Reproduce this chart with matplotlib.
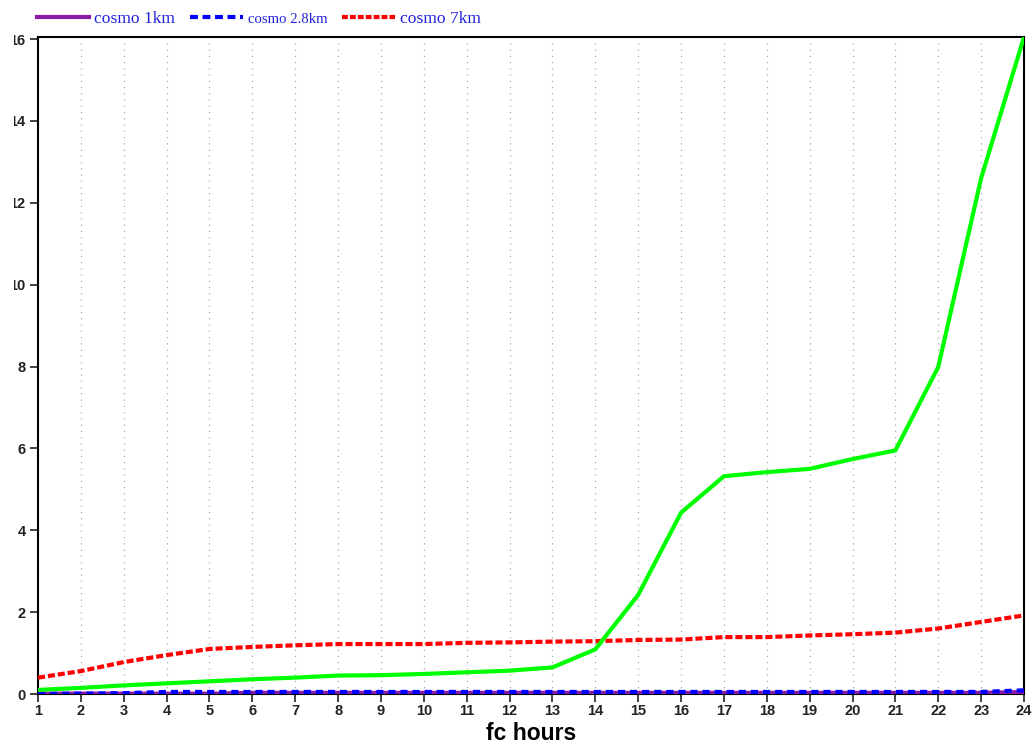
import matplotlib
matplotlib.use("Agg")
import matplotlib.pyplot as plt
from matplotlib.lines import Line2D
from matplotlib.patches import Rectangle

# forecast hours
hours = list(range(1, 25))

# series values
cosmo_1km = [0.0, 0.0, 0.0, 0.0, 0.0, 0.02, 0.02, 0.02, 0.02, 0.02, 0.02, 0.02,
             0.02, 0.02, 0.02, 0.02, 0.02, 0.02, 0.02, 0.02, 0.02, 0.02, 0.02, 0.04]
cosmo_2_8km = [0.0, 0.01, 0.02, 0.05, 0.05, 0.05, 0.05, 0.05, 0.05, 0.05, 0.05, 0.05,
               0.05, 0.05, 0.05, 0.05, 0.05, 0.05, 0.05, 0.05, 0.05, 0.05, 0.05, 0.09]
cosmo_7km = [0.40, 0.56, 0.78, 0.95, 1.10, 1.15, 1.19, 1.22, 1.22, 1.22, 1.25, 1.26,
             1.28, 1.29, 1.32, 1.33, 1.39, 1.39, 1.43, 1.46, 1.50, 1.60, 1.76, 1.92]
green_series = [0.10, 0.15, 0.21, 0.26, 0.31, 0.36, 0.40, 0.45, 0.46, 0.49, 0.53, 0.57,
                0.65, 1.09, 2.42, 4.43, 5.32, 5.42, 5.50, 5.74, 5.95, 7.99, 12.6, 16.05]

legend_labels = ["cosmo 1km", "cosmo 2.8km", "cosmo 7km"]
x_ticks = hours
y_ticks = [0, 2, 4, 6, 8, 10, 12, 14, 16]

fig = plt.figure(figsize=(10.32, 7.44), dpi=100)
ax = fig.add_axes([38 / 1032, 50 / 744, (1024 - 38) / 1032, (694 - 37) / 744])

lw = 3.0
ax.plot(hours, cosmo_1km, color="#8a1aa8", lw=lw + 0.5, solid_capstyle="butt", zorder=3)
ax.plot(hours, cosmo_2_8km, color="#0000ff", lw=lw, linestyle=(0, (1.7, 1.2)), zorder=4)
ax.plot(hours, cosmo_7km, color="#ff0000", lw=lw, linestyle=(0, (1.7, 0.7)), zorder=4)
ax.plot(hours, green_series, color="#00ff00", lw=lw, zorder=5)

ax.set_xlim(1, 24)
ax.set_ylim(0, 16.05)
ax.set_xticks(x_ticks)
ax.set_yticks(y_ticks)
ax.set_xticklabels([str(h) for h in x_ticks])
ax.set_yticklabels([str(v) for v in y_ticks])

for lab in ax.get_xticklabels() + ax.get_yticklabels():
    lab.set_fontfamily("Liberation Sans")
    lab.set_fontweight("bold")
    lab.set_fontsize(10.5)
    lab.set_color("#222222")

ax.tick_params(axis="both", direction="out", length=6, width=1.2, color="#222222")
ax.tick_params(axis="x", pad=1)
ax.tick_params(axis="y", pad=3)

ax.xaxis.grid(True, color="#aaaaaa", linestyle=(0, (1, 4)), linewidth=0.9)
ax.yaxis.grid(False)
ax.set_axisbelow(True)

for side in ["left", "right", "top", "bottom"]:
    ax.spines[side].set_color("black")
    ax.spines[side].set_linewidth(1.5)

ax.set_xlabel("fc hours", fontfamily="Liberation Sans", fontweight="bold",
              fontsize=16.5, labelpad=3)

# the chart panel is cut along its left edge
fig.patches.append(Rectangle((0, 0), 14 / 1032, 1, transform=fig.transFigure,
                             facecolor="white", edgecolor="none", zorder=10))

handles = [
    Line2D([0], [0], color="#8a1aa8", lw=3),
    Line2D([0], [0], color="#0000ff", lw=3, linestyle=(0, (1.9, 1.1))),
    Line2D([0], [0], color="#ff0000", lw=3, linestyle=(0, (1.4, 0.5))),
]
leg = fig.legend(handles, legend_labels, loc="upper left", bbox_to_anchor=(26 / 1032, 1.0),
                 ncol=3, frameon=False, handlelength=3.0, handletextpad=0.3,
                 columnspacing=0.85, borderaxespad=0.2,
                 prop=dict(family="Liberation Serif", size=12.6))
sizes = [12.6, 10.6, 12.6]
for txt, s in zip(leg.get_texts(), sizes):
    txt.set_color("#2222dd")
    txt.set_fontsize(s)

fig.savefig("out.png", dpi=100)
